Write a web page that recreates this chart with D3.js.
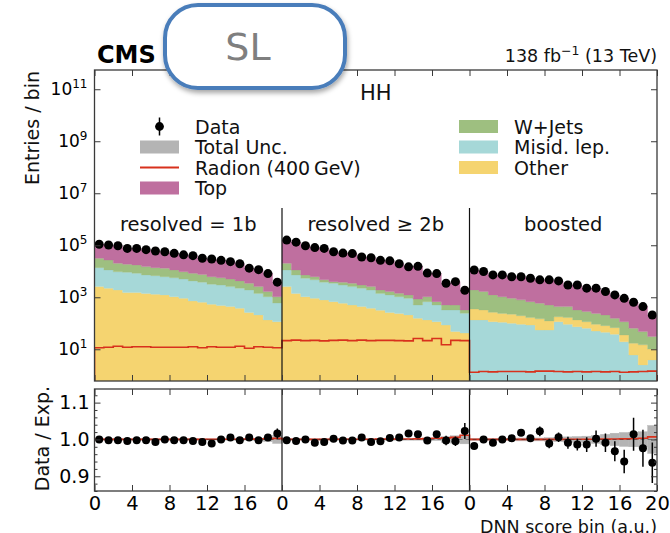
<!DOCTYPE html>
<html>
<head>
<meta charset="utf-8">
<title>HH SL - DNN score bins</title>
<script src="https://cdn.jsdelivr.net/npm/d3@7/dist/d3.min.js"></script>
<style>
  html, body { margin: 0; padding: 0; background: #ffffff; }
  svg text { font-family: "DejaVu Sans", sans-serif; }
</style>
</head>
<body>
<div id="chart"></div>
<script>
// ---------- values (3 categories x 20 bins) ----------
var regionLabels = ["resolved = 1b", "resolved \u2265 2b", "boosted"];
var xTickLabels = ["0", "4", "8", "12", "16", "0", "4", "8", "12", "16", "0", "4", "8", "12", "16", "20"];
var yTickValues = [1e1, 1e3, 1e5, 1e7, 1e9, 1e11];
var ratioTickValues = [0.9, 1.0, 1.1];

var otherValues = [
  2570, 2240, 1900, 1510, 1510, 1410, 1320, 1230, 1050, 910, 720, 650, 540, 480, 440, 380, 260, 210, 135, 115,
  2570, 1410, 1050, 910, 790, 680, 590, 500, 440, 380, 320, 260, 240, 210, 155, 135, 115, 85, 48, 42,
  220, 190, 148, 130, 124, 104, 81, 93, 68, 63, 75, 61, 50, 41, 36, 30, 16, 11, 12.3, 6.3
];
var misidValues = [
  11200, 8980, 7650, 7610, 6800, 5830, 5440, 4940, 4580, 4100, 3540, 3160, 2630, 2470, 2130, 1860, 1640, 1200, 910, 490,
  8650, 5830, 4320, 3770, 3010, 2790, 2360, 2070, 1800, 1520, 1090, 970, 810, 700, 350, 540, 390, 240, 276, 200,
  135, 135, 115, 110, 100, 91, 85, 55, 55, 115, 91, 74, 65, 50, 45, 38, 19.5, 6, 2.5, 3.9
];
var wjetsValues = [
  17800, 15700, 10870, 9500, 9060, 7900, 7040, 7010, 5600, 4540, 4050, 3780, 3000, 2670, 2440, 2030, 1560, 1160, 610, 440,
  9200, 3980, 1870, 1490, 880, 510, 850, 900, 710, 670, 490, 430, 370, 320, 350, 370, 175, 180, 177, 84,
  1550, 1340, 970, 810, 690, 600, 510, 441, 378, 259, 271, 189, 167, 149, 128, 87, 79, 48, 33, 21
];
var topValues = [
  78000, 75400, 75100, 57200, 58500, 52500, 46500, 43000, 37800, 33100, 31500, 24000, 23300, 20700, 18400, 15200, 9710, 8910, 6470, 2760,
  138000, 120600, 88300, 75100, 71200, 52200, 46300, 44400, 32500, 30500, 24400, 23500, 18100, 13600, 14600, 7460, 7450, 2970, 3480, 1540,
  9300, 8100, 6000, 6200, 5250, 5370, 4690, 4090, 4180, 3830, 2510, 2630, 1960, 2000, 1450, 1075, 797, 581, 389, 178
];
var dataValues = [
  109600, 102300, 95500, 75900, 75900, 67600, 60300, 56200, 49000, 42700, 39800, 31600, 29500, 26300, 23400, 19500, 13200, 11500, 8130, 3800,
  158500, 131800, 95500, 81300, 75900, 56200, 50100, 47900, 35500, 33100, 26300, 25100, 19500, 14800, 15500, 8510, 8130, 3470, 3980, 1860,
  11220, 9770, 7240, 7240, 6170, 6170, 5370, 4680, 4680, 4270, 2950, 2950, 2240, 2240, 1660, 1230, 912, 646, 437, 209
];
var radionValues = [
  11.5, 12, 13, 12, 12.5, 12.5, 12, 12, 12, 12, 12.5, 11.5, 12.5, 12, 12, 13, 11, 12.5, 12, 11.5,
  21.5, 22.5, 21.5, 22, 21, 22, 22.5, 21.5, 22.5, 21.5, 22, 22, 21.5, 21, 26, 21.5, 26, 15, 22, 21.5,
  1.3, 1.4, 1.35, 1.4, 1.4, 1.4, 1.35, 1.45, 1.45, 1.4, 1.35, 1.4, 1.35, 1.4, 1.35, 1.4, 1.3, 1.35, 1.4, 1.45
];
var ratioValues = [
  1.000, 0.998, 0.998, 0.996, 0.998, 0.998, 0.993, 1.000, 0.998, 0.998, 0.996, 0.993, 0.989, 1.000, 1.005, 0.998, 1.005, 0.998, 1.005, 1.016,
  0.998, 0.996, 1.000, 0.991, 0.993, 1.002, 0.997, 0.997, 1.005, 0.993, 0.995, 1.004, 1.005, 1.016, 1.014, 0.997, 1.014, 0.997, 0.995, 1.023,
  0.982, 1.000, 0.991, 1.000, 1.003, 1.018, 1.003, 1.022, 0.989, 1.006, 0.991, 0.986, 0.986, 1.002, 0.991, 0.968, 0.940, 1.014, 0.976, 0.937
];
var ratioErrors = [
  0.003, 0.003, 0.003, 0.003, 0.003, 0.003, 0.003, 0.003, 0.003, 0.003, 0.003, 0.003, 0.003, 0.003, 0.004, 0.004, 0.004, 0.004, 0.006, 0.014,
  0.003, 0.003, 0.003, 0.003, 0.003, 0.003, 0.003, 0.003, 0.003, 0.003, 0.003, 0.003, 0.003, 0.004, 0.004, 0.005, 0.005, 0.013, 0.013, 0.022,
  0.007, 0.007, 0.007, 0.007, 0.007, 0.007, 0.008, 0.013, 0.013, 0.013, 0.016, 0.016, 0.020, 0.022, 0.025, 0.027, 0.032, 0.045, 0.050, 0.055
];
var totalUncValues = [
  0.002, 0.002, 0.002, 0.002, 0.002, 0.002, 0.002, 0.002, 0.002, 0.002, 0.002, 0.002, 0.002, 0.002, 0.002, 0.002, 0.002, 0.003, 0.006, 0.011,
  0.002, 0.002, 0.002, 0.002, 0.002, 0.002, 0.002, 0.002, 0.002, 0.002, 0.002, 0.002, 0.002, 0.002, 0.002, 0.002, 0.003, 0.008, 0.010, 0.012,
  0.003, 0.003, 0.003, 0.003, 0.003, 0.004, 0.004, 0.004, 0.005, 0.006, 0.007, 0.008, 0.009, 0.011, 0.014, 0.017, 0.019, 0.020, 0.021, 0.038
];


function renderHistChart(params) {
  // Exposed variables
  var attrs = {
    svgWidth: 670,
    svgHeight: 533,
    plotLeft: 94.5,
    plotRight: 657,
    mainTop: 70,
    mainBottom: 381,
    ratioTop: 389,
    ratioBottom: 491,
    binsPerRegion: 20,
    tickLength: 6,
    minorTickLength: 3,
    frameColor: '#3a3a3a',
    colors: {
      top: '#bf6f9f',
      wjets: '#9ebf80',
      misid: '#a6d8d8',
      other: '#f5d470',
      radion: '#d8311c',
      unc: '#b4b4b4'
    },
    container: 'body'
  };

  //Main chart object
  var main = function (selection) {
    selection.each(function scope() {

      //Calculated properties
      var calc = {};
      calc.nBins = dataValues.length;
      calc.nRegions = regionLabels.length;
      calc.yMin = Math.pow(10, -0.22);
      calc.yMax = Math.pow(10, 11.74);

      // ########## scales #######
      var x = d3.scaleLinear()
        .domain([0, calc.nBins])
        .range([attrs.plotLeft, attrs.plotRight]);

      var y = d3.scaleLog()
        .domain([calc.yMin, calc.yMax])
        .range([attrs.mainBottom, attrs.mainTop])
        .clamp(true);

      var yr = d3.scaleLinear()
        .domain([0.86, 1.137])
        .range([attrs.ratioBottom, attrs.ratioTop]);

      // ########## stacking, per category (boosted has misid at the bottom) #######
      var rows = d3.range(calc.nBins).map(function (i) {
        return {
          bin: i,
          region: Math.floor(i / attrs.binsPerRegion),
          other: otherValues[i],
          misid: misidValues[i],
          wjets: wjetsValues[i],
          top: topValues[i]
        };
      });

      var stackedAreas = [];
      d3.range(calc.nRegions).forEach(function (r) {
        var keys = r === 2 ? ['misid', 'other', 'wjets', 'top'] : ['other', 'misid', 'wjets', 'top'];
        var regionRows = rows.filter(function (d) { return d.region === r; });
        d3.stack().keys(keys)(regionRows).forEach(function (series) {
          var pts = series.map(function (d) { return { bin: d.data.bin, y0: d[0], y1: d[1] }; });
          var last = pts[pts.length - 1];
          pts.push({ bin: last.bin + 1, y0: last.y0, y1: last.y1 });
          stackedAreas.push({ key: series.key, region: r, points: pts });
        });
      });

      var totals = rows.map(function (d) { return d.other + d.misid + d.wjets + d.top; });

      //Drawing containers
      var container = d3.select(this);
      container.html('');

      //Add svg
      var svg = container.patternify({ tag: 'svg', selector: 'svg-chart-container' })
        .attr('width', attrs.svgWidth)
        .attr('height', attrs.svgHeight);

      var defs = svg.append('defs');
      defs.append('clipPath').attr('id', 'clip-main')
        .append('rect')
        .attr('x', attrs.plotLeft).attr('y', attrs.mainTop)
        .attr('width', attrs.plotRight - attrs.plotLeft)
        .attr('height', attrs.mainBottom - attrs.mainTop);
      defs.append('clipPath').attr('id', 'clip-ratio')
        .append('rect')
        .attr('x', attrs.plotLeft).attr('y', attrs.ratioTop)
        .attr('width', attrs.plotRight - attrs.plotLeft)
        .attr('height', attrs.ratioBottom - attrs.ratioTop);
      defs.append('filter').attr('id', 'box-shadow')
        .attr('x', '-20%').attr('y', '-20%').attr('width', '140%').attr('height', '160%')
        .append('feDropShadow')
        .attr('dx', 1).attr('dy', 3).attr('stdDeviation', 2.5)
        .attr('flood-color', '#000').attr('flood-opacity', 0.35);

      // ##### main panel #####
      var mainPanel = svg.patternify({ tag: 'g', selector: 'main-panel' })
        .attr('clip-path', 'url(#clip-main)');

      var stepArea = d3.area()
        .curve(d3.curveStepAfter)
        .x(function (d) { return x(d.bin); })
        .y0(function (d) { return y(Math.max(d.y0, calc.yMin)); })
        .y1(function (d) { return y(d.y1); });

      mainPanel.patternify({ tag: 'path', selector: 'stack-area', data: stackedAreas })
        .attr('d', function (d) { return stepArea(d.points); })
        .attr('fill', function (d) { return attrs.colors[d.key]; })
        .attr('stroke', function (d) { return attrs.colors[d.key]; })
        .attr('stroke-width', 0.3);

      // Radion step line (dropping to the bottom at both ends)
      var radionPts = [[0, calc.yMin]];
      radionValues.forEach(function (v, i) {
        radionPts.push([i, v]);
        radionPts.push([i + 1, v]);
      });
      radionPts.push([calc.nBins, calc.yMin]);

      mainPanel.patternify({ tag: 'path', selector: 'radion-line' })
        .attr('d', d3.line().x(function (d) { return x(d[0]); }).y(function (d) { return y(d[1]); })(radionPts))
        .attr('fill', 'none')
        .attr('stroke', attrs.colors.radion)
        .attr('stroke-width', 1.6);

      mainPanel.patternify({ tag: 'circle', selector: 'data-dot', data: dataValues.map(function (v, i) { return { bin: i, value: v }; }) })
        .attr('cx', function (d) { return x(d.bin + 0.5); })
        .attr('cy', function (d) { return y(d.value); })
        .attr('r', 4.5)
        .attr('fill', '#000');

      // category separators and labels
      svg.patternify({ tag: 'line', selector: 'sep-main', data: [1, 2] })
        .attr('x1', function (d) { return x(d * attrs.binsPerRegion); })
        .attr('x2', function (d) { return x(d * attrs.binsPerRegion); })
        .attr('y1', 208)
        .attr('y2', attrs.mainBottom)
        .attr('stroke', '#111')
        .attr('stroke-width', 1.2);

      svg.patternify({ tag: 'text', selector: 'region-label', data: regionLabels })
        .attr('x', function (d, i) { return x((i + 0.5) * attrs.binsPerRegion); })
        .attr('y', 231)
        .attr('text-anchor', 'middle')
        .attr('font-size', 19.5)
        .attr('fill', '#111')
        .text(function (d) { return d; });

      // ##### ratio panel #####
      var ratioPanel = svg.patternify({ tag: 'g', selector: 'ratio-panel' })
        .attr('clip-path', 'url(#clip-ratio)');

      ratioPanel.patternify({ tag: 'rect', selector: 'unc-band', data: totalUncValues.map(function (u, i) { return { bin: i, unc: u }; }) })
        .attr('x', function (d) { return x(d.bin); })
        .attr('width', function (d) { return x(d.bin + 1) - x(d.bin); })
        .attr('y', function (d) { return yr(1 + d.unc); })
        .attr('height', function (d) { return yr(1 - d.unc) - yr(1 + d.unc); })
        .attr('fill', attrs.colors.unc)
        .attr('stroke', attrs.colors.unc)
        .attr('stroke-width', 0.4);

      var sigPts = [];
      radionValues.forEach(function (v, i) {
        sigPts.push([i, 1 + v / totals[i]]);
        sigPts.push([i + 1, 1 + v / totals[i]]);
      });
      ratioPanel.patternify({ tag: 'path', selector: 'ratio-radion' })
        .attr('d', d3.line().x(function (d) { return x(d[0]); }).y(function (d) { return yr(d[1]); })(sigPts))
        .attr('fill', 'none')
        .attr('stroke', attrs.colors.radion)
        .attr('stroke-width', 1.6);

      ratioPanel.patternify({ tag: 'line', selector: 'unity-line' })
        .attr('x1', attrs.plotLeft).attr('x2', attrs.plotRight)
        .attr('y1', yr(1)).attr('y2', yr(1))
        .attr('stroke', '#222')
        .attr('stroke-width', 0.8)
        .attr('stroke-dasharray', '4,3')
        .attr('opacity', 0.6);

      var ratioPts = ratioValues.map(function (v, i) { return { bin: i, value: v, err: ratioErrors[i] }; });

      ratioPanel.patternify({ tag: 'line', selector: 'ratio-err', data: ratioPts })
        .attr('x1', function (d) { return x(d.bin + 0.5); })
        .attr('x2', function (d) { return x(d.bin + 0.5); })
        .attr('y1', function (d) { return yr(d.value + d.err); })
        .attr('y2', function (d) { return yr(d.value - d.err); })
        .attr('stroke', '#000')
        .attr('stroke-width', 1.5);

      ratioPanel.patternify({ tag: 'circle', selector: 'ratio-dot', data: ratioPts })
        .attr('cx', function (d) { return x(d.bin + 0.5); })
        .attr('cy', function (d) { return yr(d.value); })
        .attr('r', 4)
        .attr('fill', '#000');

      svg.patternify({ tag: 'line', selector: 'sep-ratio', data: [1, 2] })
        .attr('x1', function (d) { return x(d * attrs.binsPerRegion); })
        .attr('x2', function (d) { return x(d * attrs.binsPerRegion); })
        .attr('y1', attrs.ratioTop)
        .attr('y2', attrs.ratioBottom)
        .attr('stroke', '#111')
        .attr('stroke-width', 1.2);

      // ##### axes #####
      var xTickValues = d3.range(0, calc.nBins + 1, 4);

      function styleAxis(g) {
        g.select('.domain').remove();
        g.selectAll('.tick line').attr('stroke', attrs.frameColor).attr('stroke-width', 1);
        g.attr('font-family', '"DejaVu Sans", sans-serif').attr('fill', '#111');
      }

      // main panel ticks (inward, all four sides)
      svg.append('g')
        .attr('transform', 'translate(0,' + attrs.mainBottom + ')')
        .call(d3.axisBottom(x).tickValues(xTickValues).tickSizeInner(-attrs.tickLength).tickSizeOuter(0).tickFormat(''))
        .call(styleAxis);
      svg.append('g')
        .attr('transform', 'translate(0,' + attrs.mainTop + ')')
        .call(d3.axisTop(x).tickValues(xTickValues).tickSizeInner(-attrs.tickLength).tickSizeOuter(0).tickFormat(''))
        .call(styleAxis);
      svg.append('g')
        .attr('transform', 'translate(' + attrs.plotRight + ',0)')
        .call(d3.axisRight(y).tickValues(yTickValues).tickSizeInner(-attrs.tickLength).tickSizeOuter(0).tickFormat(''))
        .call(styleAxis);

      var yAxisMain = svg.append('g')
        .attr('transform', 'translate(' + attrs.plotLeft + ',0)')
        .call(d3.axisLeft(y).tickValues(yTickValues).tickSizeInner(-attrs.tickLength).tickSizeOuter(0).tickPadding(7))
        .call(styleAxis)
        .attr('font-size', 17);

      yAxisMain.selectAll('.tick text')
        .attr('dy', '0.30em')
        .text('')
        .each(function (d) {
          var t = d3.select(this);
          t.append('tspan').text('10');
          t.append('tspan')
            .attr('dy', -6.5)
            .attr('font-size', 12)
            .text(Math.round(Math.log10(d)));
        });

      // ratio panel ticks
      var ratioMinor = d3.range(43, 57)
        .map(function (k) { return +(k * 0.02).toFixed(2); })
        .filter(function (v) { return ratioTickValues.indexOf(v) < 0; });

      svg.append('g')
        .attr('transform', 'translate(0,' + attrs.ratioBottom + ')')
        .call(d3.axisBottom(x).tickValues(xTickValues).tickSizeInner(-attrs.tickLength).tickSizeOuter(0).tickPadding(5.5)
          .tickFormat(function (d, i) { return xTickLabels[i]; }))
        .call(styleAxis)
        .attr('font-size', 19.5);
      svg.append('g')
        .attr('transform', 'translate(0,' + attrs.ratioTop + ')')
        .call(d3.axisTop(x).tickValues(xTickValues).tickSizeInner(-attrs.tickLength).tickSizeOuter(0).tickFormat(''))
        .call(styleAxis);

      svg.append('g')
        .attr('transform', 'translate(' + attrs.plotLeft + ',0)')
        .call(d3.axisLeft(yr).tickValues(ratioTickValues).tickSizeInner(-attrs.tickLength).tickSizeOuter(0).tickPadding(5)
          .tickFormat(d3.format('.1f')))
        .call(styleAxis)
        .attr('font-size', 19);
      svg.append('g')
        .attr('transform', 'translate(' + attrs.plotLeft + ',0)')
        .call(d3.axisLeft(yr).tickValues(ratioMinor).tickSizeInner(-attrs.minorTickLength).tickSizeOuter(0).tickFormat(''))
        .call(styleAxis);
      svg.append('g')
        .attr('transform', 'translate(' + attrs.plotRight + ',0)')
        .call(d3.axisRight(yr).tickValues(ratioTickValues).tickSizeInner(-attrs.tickLength).tickSizeOuter(0).tickFormat(''))
        .call(styleAxis);
      svg.append('g')
        .attr('transform', 'translate(' + attrs.plotRight + ',0)')
        .call(d3.axisRight(yr).tickValues(ratioMinor).tickSizeInner(-attrs.minorTickLength).tickSizeOuter(0).tickFormat(''))
        .call(styleAxis);

      // frames
      svg.patternify({ tag: 'rect', selector: 'frame', data: [[attrs.mainTop, attrs.mainBottom], [attrs.ratioTop, attrs.ratioBottom]] })
        .attr('x', attrs.plotLeft)
        .attr('y', function (d) { return d[0]; })
        .attr('width', attrs.plotRight - attrs.plotLeft)
        .attr('height', function (d) { return d[1] - d[0]; })
        .attr('fill', 'none')
        .attr('stroke', attrs.frameColor)
        .attr('stroke-width', 1.3);

      // axis titles
      svg.append('text')
        .attr('transform', 'translate(38.5,' + (attrs.mainTop + 1) + ') rotate(-90)')
        .attr('text-anchor', 'end')
        .attr('font-size', 19)
        .attr('fill', '#111')
        .text('Entries / bin');

      svg.append('text')
        .attr('transform', 'translate(49,' + (attrs.ratioTop - 3) + ') rotate(-90)')
        .attr('text-anchor', 'end')
        .attr('font-size', 19)
        .attr('fill', '#111')
        .text('Data / Exp.');

      svg.append('text')
        .attr('x', attrs.plotRight)
        .attr('y', 532.5)
        .attr('text-anchor', 'end')
        .attr('font-size', 17.5)
        .attr('fill', '#111')
        .text('DNN score bin (a.u.)');

      // header
      svg.append('text')
        .attr('x', 97)
        .attr('y', 62.5)
        .attr('font-family', '"Liberation Sans", Arial, sans-serif')
        .attr('font-weight', 'bold')
        .attr('font-size', 24)
        .attr('fill', '#000')
        .text('CMS');

      var lumi = svg.append('text')
        .attr('x', attrs.plotRight)
        .attr('y', 62)
        .attr('text-anchor', 'end')
        .attr('font-size', 17.5)
        .attr('fill', '#111');
      lumi.append('tspan').text('138 fb');
      lumi.append('tspan').attr('dy', -7).attr('font-size', 12.5).text('\u22121');
      lumi.append('tspan').attr('dy', 7).text(' (13 TeV)');

      svg.append('text')
        .attr('x', x(calc.nBins / 2))
        .attr('y', 100)
        .attr('text-anchor', 'middle')
        .attr('font-size', 21)
        .attr('fill', '#111')
        .text('HH');

      // ##### legend #####
      var legendLeft = [
        { label: 'Data', type: 'data' },
        { label: 'Total Unc.', type: 'patch', color: attrs.colors.unc },
        { label: 'Radion (400\u2009GeV)', type: 'line', color: attrs.colors.radion },
        { label: 'Top', type: 'patch', color: attrs.colors.top }
      ];
      var legendRight = [
        { label: 'W+Jets', type: 'patch', color: attrs.colors.wjets },
        { label: 'Misid. lep.', type: 'patch', color: attrs.colors.misid },
        { label: 'Other', type: 'patch', color: attrs.colors.other }
      ];

      function drawLegend(items, left, cls) {
        var rowsG = svg.patternify({ tag: 'g', selector: cls, data: items })
          .attr('transform', function (d, i) { return 'translate(' + left + ',' + (126.5 + i * 20.5) + ')'; });
        rowsG.each(function (d) {
          var g = d3.select(this);
          if (d.type === 'patch') {
            g.append('rect').attr('x', 0).attr('y', -6.5).attr('width', 39).attr('height', 13).attr('fill', d.color);
          } else if (d.type === 'line') {
            g.append('line').attr('x1', 0).attr('x2', 39).attr('y1', 0).attr('y2', 0)
              .attr('stroke', d.color).attr('stroke-width', 1.8);
          } else {
            g.append('line').attr('x1', 19.5).attr('x2', 19.5).attr('y1', -9).attr('y2', 9)
              .attr('stroke', '#000').attr('stroke-width', 1.5);
            g.append('circle').attr('cx', 19.5).attr('cy', 0).attr('r', 4.4).attr('fill', '#000');
          }
          g.append('text').attr('x', 55).attr('y', 7).attr('font-size', 19).attr('fill', '#111').text(d.label);
        });
      }
      drawLegend(legendLeft, 140, 'legend-left');
      drawLegend(legendRight, 459, 'legend-right');

      // ##### "SL" call-out box #####
      var tag = svg.patternify({ tag: 'g', selector: 'sl-tag' });
      tag.append('rect')
        .attr('x', 165).attr('y', 5)
        .attr('width', 180).attr('height', 83)
        .attr('rx', 33).attr('ry', 33)
        .attr('fill', '#fff')
        .attr('stroke', '#4a7dba')
        .attr('stroke-width', 4)
        .attr('filter', 'url(#box-shadow)');
      tag.append('text')
        .attr('x', 248).attr('y', 60)
        .attr('text-anchor', 'middle')
        .attr('font-family', '"Open Sans", "DejaVu Sans", sans-serif')
        .attr('font-size', 38)
        .attr('fill', '#7f7f7f')
        .text('SL');
    });
  };

  //----------- PROTOTYPE FUNCTIONS  ----------------------
  d3.selection.prototype.patternify = function (params) {
    var container = this;
    var selector = params.selector;
    var elementTag = params.tag;
    var data = params.data || [selector];

    var selection = container.selectAll('.' + selector).data(data, function (d, i) { return i; });
    selection.exit().remove();
    selection = selection.enter().append(elementTag).merge(selection);
    selection.attr('class', selector);
    return selection;
  };

  Object.keys(attrs).forEach(function (key) {
    main[key] = function (_) {
      if (!arguments.length) { return attrs[key]; }
      attrs[key] = _;
      return main;
    };
  });

  main.run = function () {
    d3.selectAll(attrs.container).call(main);
    return main;
  };

  return main;
}

renderHistChart()
  .container('#chart')
  .run();
</script>
</body>
</html>
